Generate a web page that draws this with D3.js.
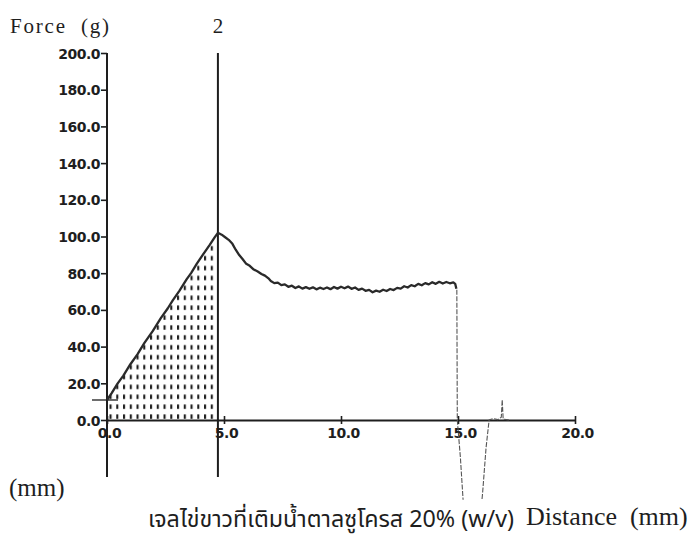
<!DOCTYPE html>
<html>
<head>
<meta charset="utf-8">
<script src="https://cdn.jsdelivr.net/npm/d3@7/dist/d3.min.js"></script>
<style>
  html, body { margin: 0; padding: 0; background: #ffffff; }
  svg { display: block; }
</style>
</head>
<body>
<svg id="chart" width="689" height="537"></svg>
<script>
// Force / distance trace from a texture analyser (compression test)
const distance = [
  0.00, 0.20, 0.45, 0.70, 1.00, 1.30, 1.60, 1.96, 2.30, 2.60, 2.81, 3.10, 3.40, 3.60, 3.84, 4.10, 4.39, 4.60, 4.74,
  4.90, 5.05, 5.20, 5.36, 5.50, 5.65, 5.80, 5.95, 6.10, 6.25, 6.44, 6.60, 6.75, 6.90,
  7.00, 7.15, 7.30, 7.45, 7.60, 7.75, 7.90, 8.05, 8.20, 8.35, 8.50, 8.65, 8.80, 8.95,
  9.10, 9.25, 9.40, 9.55, 9.70, 9.85, 10.00, 10.15, 10.30, 10.45, 10.60, 10.75, 10.90,
  11.05, 11.20, 11.35, 11.50, 11.65, 11.80, 11.95, 12.10, 12.25, 12.40, 12.55, 12.70,
  12.85, 13.00, 13.15, 13.30, 13.45, 13.60, 13.75, 13.90, 14.05, 14.20, 14.35, 14.50,
  14.65, 14.80, 14.88, 14.93
];
const force = [
  10.9, 14.6, 19.8, 24.2, 30.4, 35.8, 42.0, 48.6, 55.5, 60.9, 65.2, 70.5, 76.6, 80.2, 85.2, 90.1, 95.4, 99.5, 102.0,
  101.0, 99.6, 98.2, 96.0, 92.8, 89.9, 87.6, 85.1, 84.0, 82.2, 80.9, 79.6, 78.7, 77.2,
  75.8, 74.6, 74.9, 73.5, 73.9, 72.6, 73.2, 71.9, 72.8, 71.6, 72.4, 71.5, 72.3, 71.2,
  72.1, 71.4, 72.2, 71.3, 72.5, 71.6, 72.6, 71.8, 72.7, 71.5, 72.2, 70.9, 71.6,
  70.4, 70.9, 69.6, 70.5, 69.9, 71.0, 70.3, 71.4, 70.8, 72.0, 71.6, 72.9,
  72.2, 73.5, 72.9, 74.2, 73.4, 74.6, 73.9, 75.1, 74.2, 75.3, 74.4, 75.2,
  74.5, 75.0, 74.2, 71.5
];
// trace after the sample breaks
const breakDistance = [14.95, 14.97, 15.10, 15.30, 15.90, 16.05, 16.20, 16.33, 16.50, 16.70, 16.85, 16.89, 16.93, 17.20];
const breakForce    = [71.0, 0.0, -20.0, -60.0, -60.0, -40.0, -15.0, 0.0, 0.8, 0.2, 1.5, 11.0, 0.5, 0.0];

const peakDistance = 4.74;     // marker "2"
const xTicks = [0, 5, 10, 15, 20];
const yTicks = [0, 20, 40, 60, 80, 100, 120, 140, 160, 180, 200];

const svg = d3.select("#chart");
const ink = "#1e1e1e";

const x = d3.scaleLinear().domain([0, 20]).range([107, 575]);
const y = d3.scaleLinear().domain([0, 200]).range([420, 53]);

const pts = distance.map((d, i) => ({ d, f: force[i] }));
const peakIdx = distance.indexOf(peakDistance);
const rising = pts.slice(0, peakIdx + 1);
const brk = breakDistance.map((d, i) => ({ d, f: breakForce[i] }));

// dotted fill pattern for the area up to the peak
const defs = svg.append("defs");
const pat = defs.append("pattern")
  .attr("id", "dots")
  .attr("patternUnits", "userSpaceOnUse")
  .attr("x", x(0) + 2.5).attr("y", y(0))
  .attr("width", 6.75).attr("height", 9.9);
pat.append("rect").attr("x", 0).attr("y", 4.3).attr("width", 2.1).attr("height", 4.4).attr("fill", ink);

defs.append("clipPath").attr("id", "plotClip")
  .append("rect").attr("x", 0).attr("y", 0).attr("width", 689).attr("height", y(-43.5));

svg.append("path")
  .datum(rising)
  .attr("d", d3.area().x(p => x(p.d)).y0(y(0)).y1(p => y(p.f)))
  .attr("fill", "url(#dots)");

// y axis
const yAxis = svg.append("g")
  .attr("transform", `translate(${x(0)},0)`)
  .call(d3.axisLeft(y).tickValues(yTicks).tickFormat(d3.format(".1f")).tickSize(6).tickSizeOuter(0));
yAxis.select(".domain").remove();
yAxis.selectAll(".tick line").attr("stroke", ink).attr("stroke-width", 1.6);
yAxis.selectAll(".tick text")
  .attr("x", -7).attr("dy", "0.36em")
  .attr("font-family", "DejaVu Sans").attr("font-size", 14).attr("font-weight", "bold")
  .attr("fill", ink).attr("letter-spacing", -0.5);
svg.append("line")
  .attr("x1", x(0)).attr("x2", x(0)).attr("y1", y(200)).attr("y2", y(-31))
  .attr("stroke", ink).attr("stroke-width", 2);

// x axis
const xAxis = svg.append("g")
  .attr("transform", `translate(0,${y(0)})`)
  .call(d3.axisBottom(x).tickValues(xTicks).tickFormat(d3.format(".1f")).tickSize(4).tickSizeOuter(0));
xAxis.select(".domain").attr("stroke", ink).attr("stroke-width", 2);
xAxis.selectAll(".tick line").attr("y1", -4).attr("stroke", ink).attr("stroke-width", 1.6);
xAxis.selectAll(".tick text")
  .attr("y", 8).attr("dy", "0.71em").attr("dx", 2)
  .attr("font-family", "DejaVu Sans").attr("font-size", 14).attr("font-weight", "bold")
  .attr("fill", ink).attr("letter-spacing", -0.5);

// peak marker line
svg.append("line")
  .attr("x1", x(peakDistance)).attr("x2", x(peakDistance))
  .attr("y1", y(200)).attr("y2", y(-31))
  .attr("stroke", ink).attr("stroke-width", 2);

// trigger baseline
svg.append("line")
  .attr("x1", x(0) - 15).attr("x2", x(0) + 11)
  .attr("y1", y(force[0])).attr("y2", y(force[0]))
  .attr("stroke", ink).attr("stroke-width", 1.3);

// main trace
svg.append("path")
  .datum(pts)
  .attr("d", d3.line().x(p => x(p.d)).y(p => y(p.f)))
  .attr("fill", "none").attr("stroke", "#2a2a2a").attr("stroke-width", 2.3)
  .attr("stroke-linejoin", "round");

// trace after break
svg.append("path")
  .datum(brk)
  .attr("clip-path", "url(#plotClip)")
  .attr("d", d3.line().x(p => x(p.d)).y(p => y(p.f)))
  .attr("fill", "none").attr("stroke", "#555").attr("stroke-width", 1.1)
  .attr("stroke-dasharray", "5,1.5");

// labels
const serif = "Liberation Serif";
svg.append("text").attr("x", 10).attr("y", 33)
  .attr("font-family", serif).attr("font-size", 21).attr("letter-spacing", 1.8).attr("fill", ink)
  .attr("xml:space", "preserve").text("Force  (g)");
svg.append("text").attr("x", x(peakDistance)).attr("y", 33).attr("text-anchor", "middle")
  .attr("font-family", serif).attr("font-size", 21).attr("fill", ink).text("2");
svg.append("text").attr("x", 9).attr("y", 496)
  .attr("font-family", serif).attr("font-size", 25).attr("fill", ink).text("(mm)");
svg.append("text").attr("x", 526).attr("y", 525)
  .attr("font-family", serif).attr("font-size", 26).attr("fill", ink)
  .attr("xml:space", "preserve").text("Distance  (mm)");
svg.append("text").attr("x", 331).attr("y", 527).attr("text-anchor", "middle")
  .attr("font-family", "Noto Sans Thai, Noto Sans, DejaVu Sans, sans-serif").attr("font-size", 23).attr("fill", ink)
  .attr("textLength", 366).attr("lengthAdjust", "spacingAndGlyphs")
  .text("เจลไข่ขาวที่เติมน้ำตาลซูโครส 20% (w/v)");
</script>
</body>
</html>
